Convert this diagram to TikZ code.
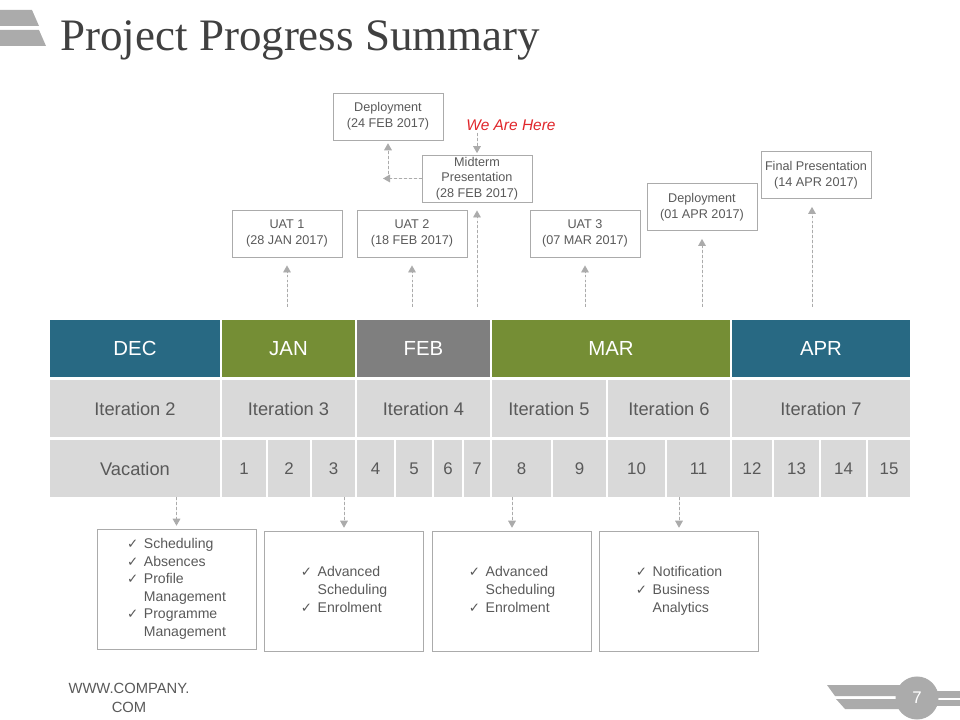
\documentclass[tikz,border=0pt]{standalone}
\usepackage{fontspec}
\setmainfont{Liberation Sans}
\newfontfamily\titlefont{Liberation Serif}
\newfontfamily\symfont{DejaVu Sans}
\usetikzlibrary{arrows.meta}
\definecolor{monthteal}{HTML}{286983}
\definecolor{monthgreen}{HTML}{758E35}
\definecolor{monthgray}{HTML}{7F7F7F}
\definecolor{cellgray}{HTML}{D9D9D9}
\definecolor{textgray}{HTML}{595959}
\definecolor{titlegray}{HTML}{404040}
\definecolor{linegray}{HTML}{ABABAB}
\definecolor{herered}{HTML}{E0262B}
\newcommand\chk{{\symfont\fontsize{9.5}{9.5}\selectfont ✓}}
\tikzset{
  month/.style={inner sep=0pt,minimum height=1.425cm,text=white,font=\fontsize{14.5}{17}\selectfont},
  iter/.style={inner sep=0pt,minimum height=1.425cm,fill=cellgray,text=textgray,font=\fontsize{13}{15}\selectfont},
  wk/.style={iter,font=\fontsize{12}{14}\selectfont},
  mile/.style={draw=linegray,line width=0.6pt,text=textgray,align=center,inner sep=1pt,
    minimum width=2.75cm,minimum height=1.175cm,font=\fontsize{9}{11.2}\selectfont},
  feat/.style={draw=linegray,line width=0.6pt,text=textgray,inner sep=0pt,
    minimum width=3.975cm,minimum height=3cm,font=\fontsize{10}{12.5}\selectfont},
  conn/.style={->,draw=linegray,fill=linegray,line width=0.6pt,dash pattern=on 2pt off 1.5pt},
  bar/.style={fill=linegray,draw=none}
}
\begin{document}
\begin{tikzpicture}[x=0.025cm,y=-0.025cm,>={Triangle[length=5pt,width=5.5pt]}]
\useasboundingbox (0,0) rectangle (960,720);
% Kopfzeile
\fill[bar] (0,10) -- (32,10) -- (39,26) -- (0,26) -- cycle;
\fill[bar] (0,30) -- (39,30) -- (46,46) -- (0,46) -- cycle;
\node[anchor=base west,inner sep=0pt,text=titlegray,font=\titlefont\fontsize{32}{38}\selectfont] (title) at (60,51) {Project Progress Summary};
% Monate
\foreach \nm/\xa/\xb/\col/\txt in {dec/50/220/monthteal/DEC,jan/222/355/monthgreen/JAN,feb/357/490/monthgray/FEB,mar/492/730/monthgreen/MAR,apr/732/910/monthteal/APR}
  \node[month,fill=\col,minimum width={(\xb-\xa)*0.025cm}] (\nm) at ({(\xa+\xb)/2},348.5) {\txt};
% Iterationen
\foreach \nm/\xa/\xb/\txt in {it2/50/220/Iteration 2,it3/222/355/Iteration 3,it4/357/490/Iteration 4,it5/492/606/Iteration 5,it6/608/730/Iteration 6,it7/732/910/Iteration 7}
  \node[iter,minimum width={(\xb-\xa)*0.025cm}] (\nm) at ({(\xa+\xb)/2},408.5) {\txt};
% Wochen
\node[iter,minimum width=4.25cm] (vac) at (135,468.5) {Vacation};
\foreach \n/\xa/\xb in {1/222/266,2/268/310,3/312/355,4/357/394,5/396/432,6/434/462,7/464/490,8/492/551,9/553/606,10/608/665,11/667/730,12/732/772,13/774/819,14/821/866,15/868/910}
  \node[wk,minimum width={(\xb-\xa)*0.025cm}] (w\n) at ({(\xa+\xb)/2},468.5) {\n};
% Meilensteine
\node[mile] (dep1) at (388,116.5) {Deployment\\(24 FEB 2017)};
\node[mile] (mid) at (477,178.5) {Midterm\\Presentation\\(28 FEB 2017)};
\node[mile] (uat1) at (287,233.5) {UAT 1\\(28 JAN 2017)};
\node[mile] (uat2) at (412,233.5) {UAT 2\\(18 FEB 2017)};
\node[mile] (uat3) at (585,233.5) {UAT 3\\(07 MAR 2017)};
\node[mile] (dep2) at (702,207) {Deployment\\(01 APR 2017)};
\node[mile] (final) at (816,175) {Final Presentation\\(14 APR 2017)};
\node[text=herered,font=\fontsize{11}{13}\selectfont\itshape] (here) at (511,125) {We Are Here};
\coordinate (herearr) at (477,133);
\coordinate (midleft) at (383,178.5);
\foreach \m/\x in {uat1/287,uat2/412,mid/477,uat3/585,dep2/702,final/812}
  \coordinate (\m-start) at (\x,307);
\foreach \m in {uat1,uat2,mid,uat3,dep2,final}
  \draw[conn,shorten >=0.2cm] (\m-start) -- (\m-start |- \m.south);
\draw[conn,shorten >=1pt] (herearr) -- (mid.north);
\draw[conn] (mid.west) -- (midleft);
\draw[conn,shorten >=2pt] (dep1.south |- mid.west) -- (dep1.south);
% Funktionen
\node[feat] (f1) at (176.5,589) {\begin{tabular}{@{}l@{\hspace{4pt}}l@{}}\chk & Scheduling\\ \chk & Absences\\ \chk & Profile\\ & Management\\ \chk & Programme\\ & Management\end{tabular}};
\node[feat] (f2) at (344,591) {\begin{tabular}{@{}l@{\hspace{4pt}}l@{}}\chk & Advanced\\ & Scheduling\\ \chk & Enrolment\end{tabular}};
\node[feat] (f3) at (512,591) {\begin{tabular}{@{}l@{\hspace{4pt}}l@{}}\chk & Advanced\\ & Scheduling\\ \chk & Enrolment\end{tabular}};
\node[feat] (f4) at (679,591) {\begin{tabular}{@{}l@{\hspace{4pt}}l@{}}\chk & Notification\\ \chk & Business\\ & Analytics\end{tabular}};
\foreach \f in {f1,f2,f3,f4}
  \draw[conn,shorten >=2pt] (\f.north |- vac.south) -- (\f.north);
% Fusszeile
\node[text=textgray,align=center,font=\fontsize{10.5}{13.5}\selectfont] (web) at (129,698) {WWW.COMPANY.\\COM};
\fill[bar] (827,685) -- (905,685) -- (905,696) -- (835,696) -- cycle;
\fill[bar] (836,699) -- (905,699) -- (905,709) -- (845,709) -- cycle;
\fill[bar] (925,691) rectangle (960,698);
\fill[bar] (925,700) rectangle (960,706);
\node[circle,fill=linegray,inner sep=0pt,minimum size=1.075cm,text=white,font=\fontsize{12}{12}\selectfont] (page) at (917,698) {7};
\end{tikzpicture}
\end{document}
